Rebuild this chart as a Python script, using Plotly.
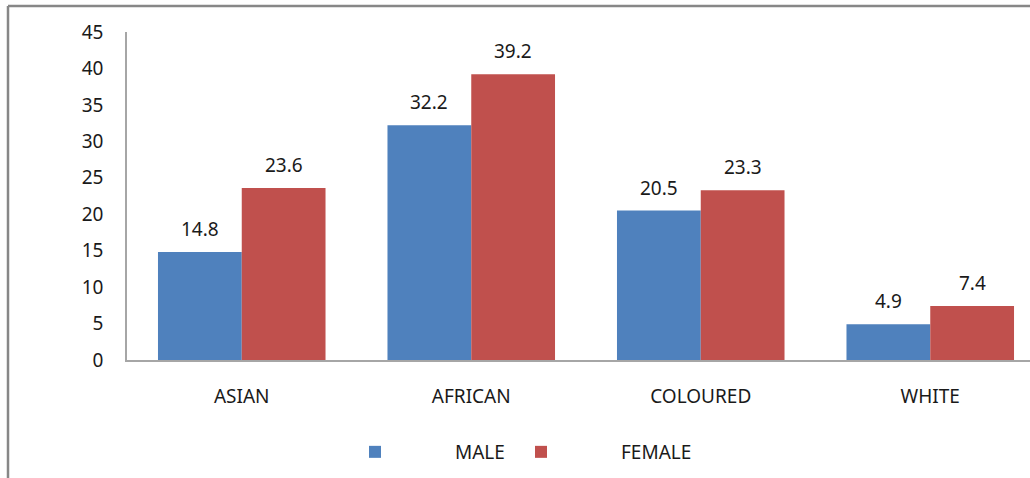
import plotly.graph_objects as go

categories = ["ASIAN", "AFRICAN", "COLOURED", "WHITE"]
male = [14.8, 32.2, 20.5, 4.9]
female = [23.6, 39.2, 23.3, 7.4]
y_ticks = [0, 5, 10, 15, 20, 25, 30, 35, 40, 45]

BLUE = "#4F81BD"
RED = "#C0504D"
FONT = "Noto Sans"
TXT = "#1a1a1a"
FS = 19

W, H = 1030, 478
L, R, T, B = 127, 0, 32, 118
pw, ph = W - L - R, H - T - B
cat_px = 229.5
x_hi = pw / cat_px - 0.5

fig = go.Figure()
fig.add_bar(x=categories, y=male, name="MALE", legendwidth=1,
            marker=dict(color=BLUE, line_width=0))
fig.add_bar(x=categories, y=female, name="FEMALE", legendwidth=90,
            marker=dict(color=RED, line_width=0))

bar_px = cat_px * (1 - 0.27) / 2
for vals, sh in ((male, -bar_px / 2), (female, bar_px / 2)):
    for c, v in zip(categories, vals):
        fig.add_annotation(x=c, y=v, text=f"{v:.1f}", showarrow=False,
                           xshift=sh, yshift=8, yanchor="bottom",
                           font=dict(family=FONT, size=FS, color=TXT))

# outer frame (left and top edges visible in the cropped reference)
fx = (8 - L) / pw
fy = 1 + (T - 6) / ph
fig.add_shape(type="line", xref="paper", yref="paper", x0=fx, x1=fx, y0=fy, y1=-B / ph - 0.01,
              line=dict(color="#878787", width=2.5))
fig.add_shape(type="line", xref="paper", yref="paper", x0=fx, x1=1.01, y0=fy, y1=fy,
              line=dict(color="#878787", width=2.5))

fig.update_layout(
    width=W, height=H,
    margin=dict(l=L, r=R, t=T, b=B, pad=0),
    paper_bgcolor="white", plot_bgcolor="white",
    barmode="group", bargap=0.27, bargroupgap=0,
    font=dict(family=FONT, size=FS, color=TXT),
    showlegend=True,
    legend=dict(orientation="h", x=(295 - L) / pw, xanchor="left",
                y=(360 - 452) / ph, yanchor="middle",
                font=dict(family=FONT, size=FS, color=TXT),
                itemwidth=150, entrywidthmode="pixels",
                bgcolor="rgba(0,0,0,0)", borderwidth=0),
    xaxis=dict(range=[-0.5, x_hi], showgrid=False, showline=True, linecolor="#a6a6a6",
               linewidth=1.5, ticks="", ticklabelstandoff=18, zeroline=False,
               tickfont=dict(family=FONT, size=FS, color=TXT)),
    yaxis=dict(range=[0, 45], tickvals=y_ticks, showgrid=False, showline=True,
               linecolor="#a6a6a6", linewidth=1.5, ticks="", ticklabelstandoff=18,
               zeroline=False, tickfont=dict(family=FONT, size=FS, color=TXT)),
)

fig.write_html("out.html")
